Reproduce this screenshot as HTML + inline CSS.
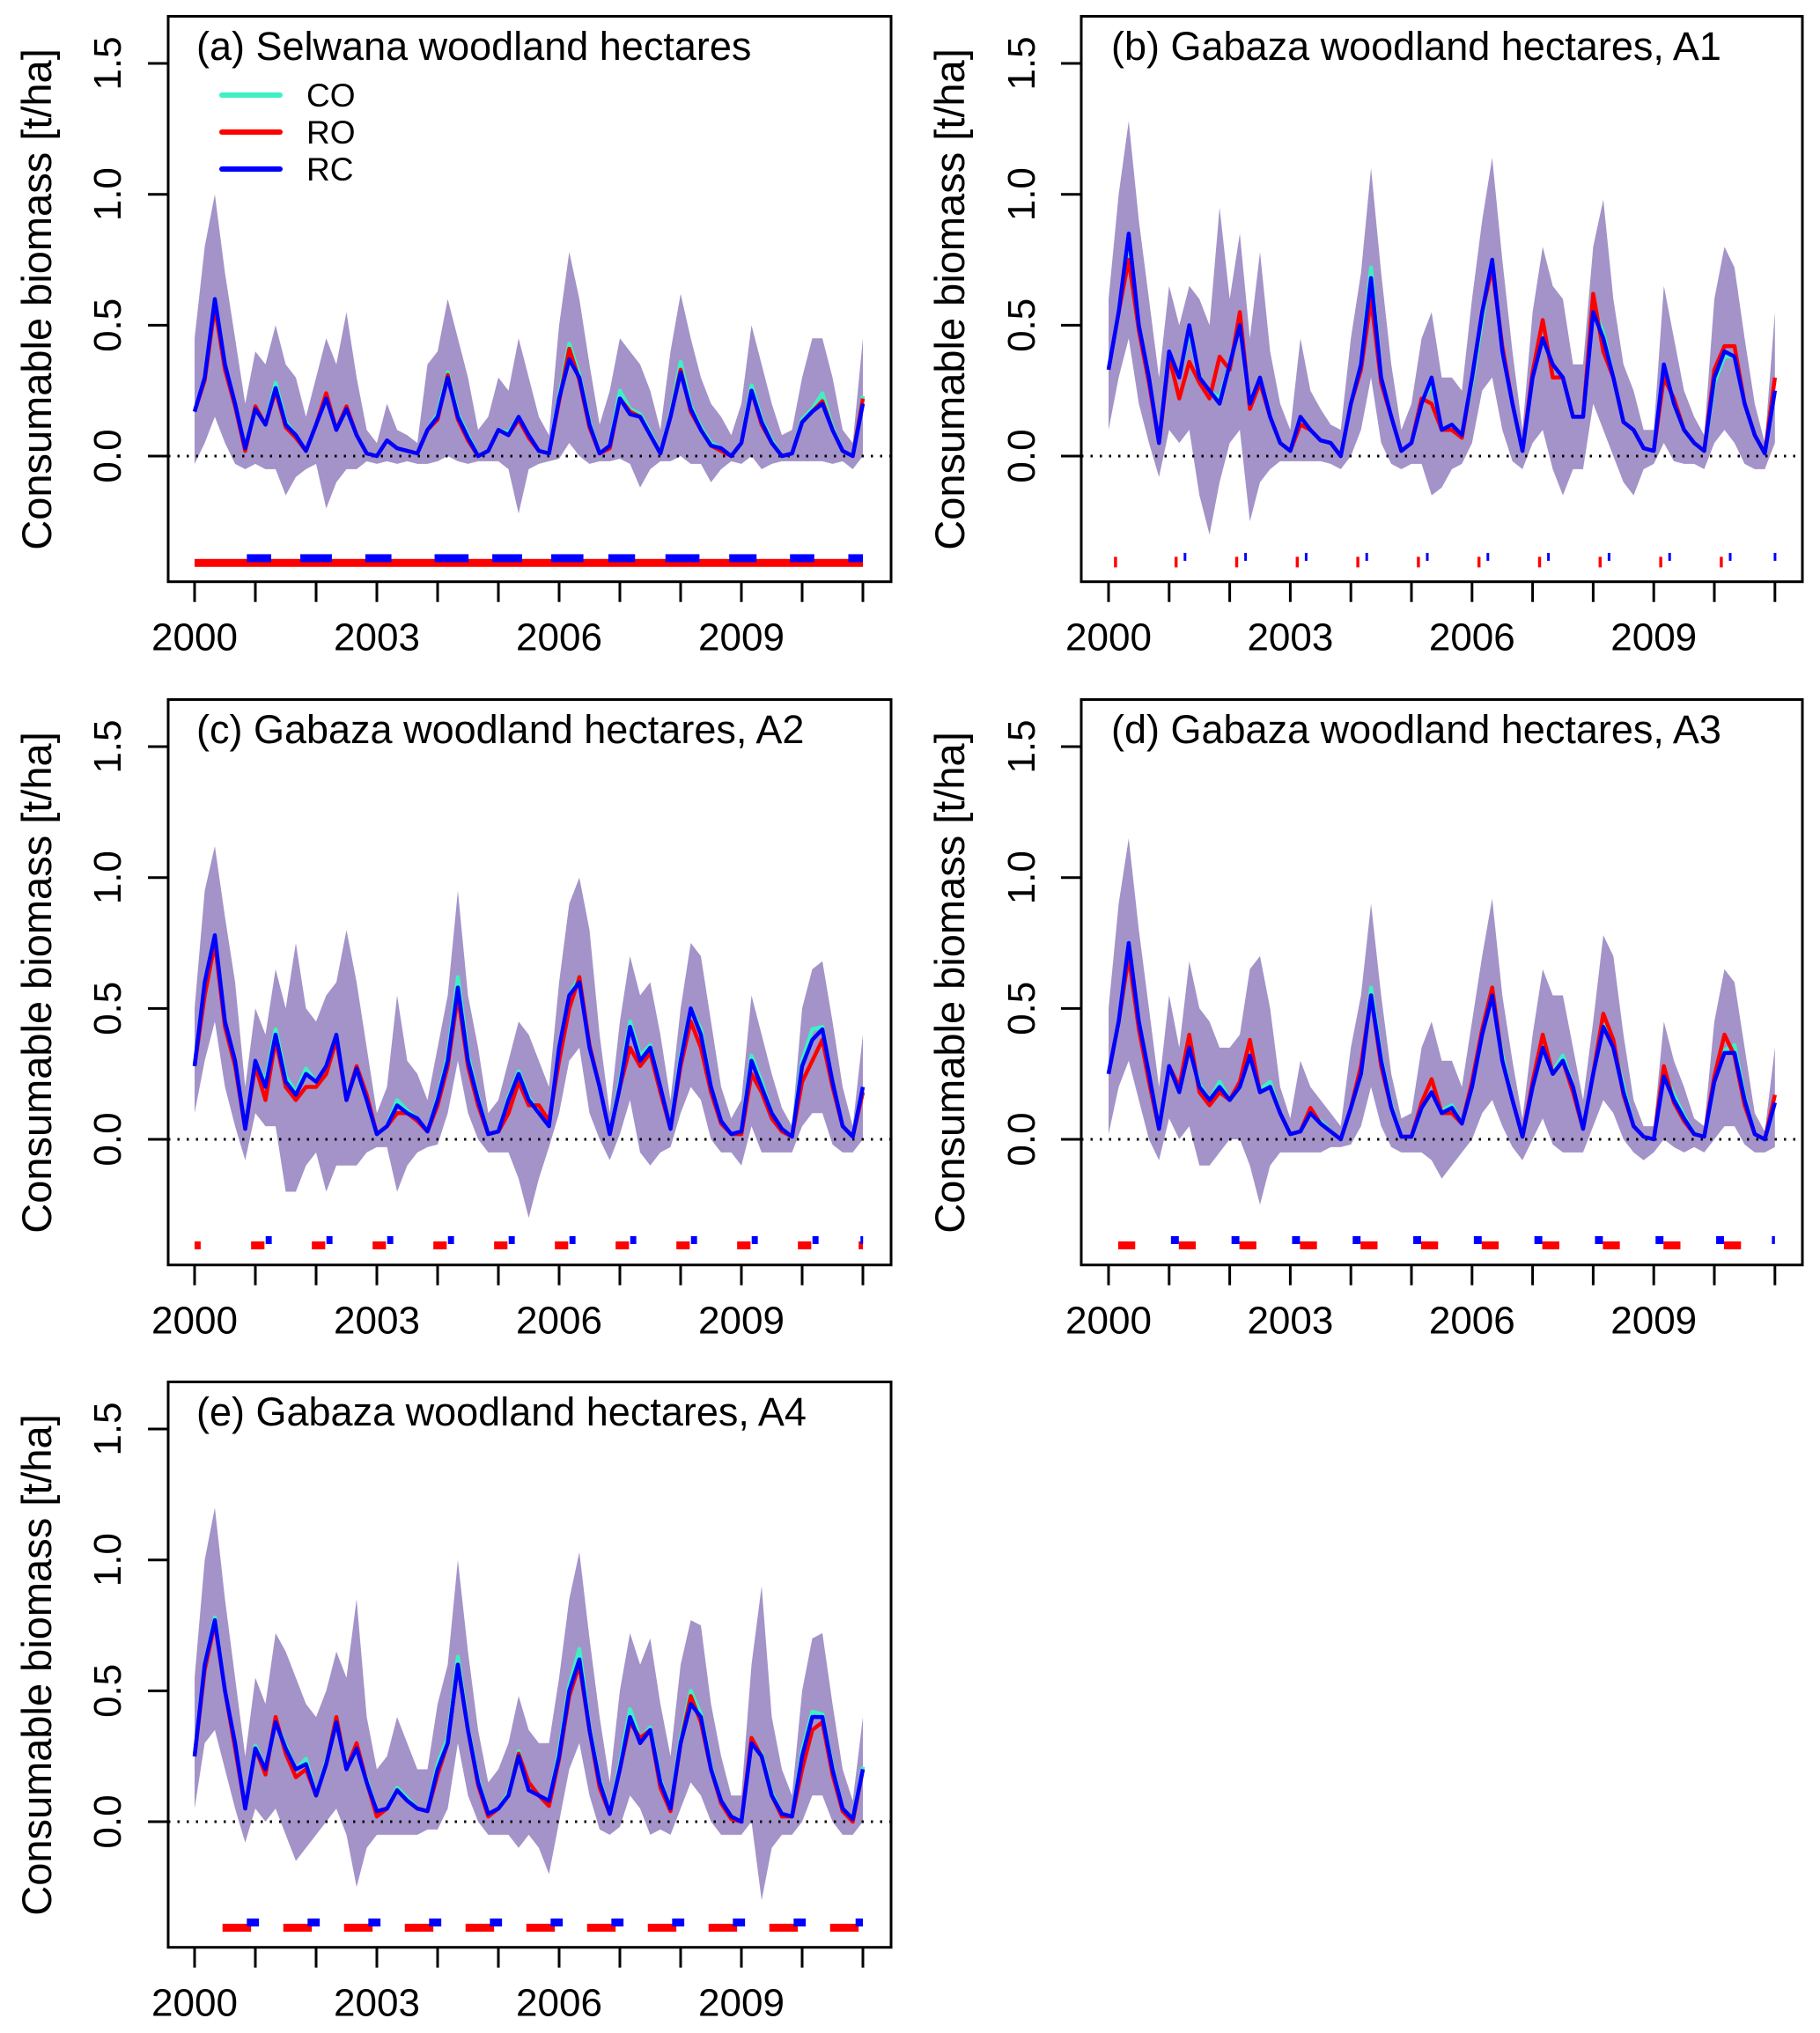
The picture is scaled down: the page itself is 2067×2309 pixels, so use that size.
<!DOCTYPE html>
<html><head><meta charset="utf-8">
<style>
html,body{margin:0;padding:0;background:#fff;}
svg{display:block;font-family:"Liberation Sans",Arial,sans-serif;}
</style></head>
<body>
<svg id="fig" width="2067" height="2309" viewBox="0 0 2067 2309" xmlns="http://www.w3.org/2000/svg"></svg>
<script>
// ---- data (2-month steps from 2000.0 to 2011.0, 67 points) ----
const xTicks = [2000,2001,2002,2003,2004,2005,2006,2007,2008,2009,2010,2011];
const xTickLabels = ["2000","2003","2006","2009"];
const yTicks = [0.0,0.5,1.0,1.5];
const yTickLabels = ["0.0","0.5","1.0","1.5"];
const seriesNames = ["CO","RO","RC"];
const panelTitles = ["(a) Selwana woodland hectares","(b) Gabaza woodland hectares, A1","(c) Gabaza woodland hectares, A2","(d) Gabaza woodland hectares, A3","(e) Gabaza woodland hectares, A4"];

const rcA = [0.17,0.3,0.6,0.35,0.2,0.03, 0.18,0.12,0.26,0.12,0.08,0.02, 0.12,0.22,0.1,0.18,0.08,0.01, 0.0,0.06,0.03,0.02,0.01,0.1, 0.15,0.3,0.15,0.07,0.0,0.02, 0.1,0.08,0.15,0.08,0.02,0.01, 0.22,0.37,0.3,0.12,0.01,0.04, 0.22,0.16,0.15,0.08,0.01,0.15, 0.32,0.18,0.1,0.04,0.03,0.0, 0.05,0.25,0.13,0.05,0.0,0.01, 0.13,0.17,0.2,0.1,0.02,0.0,0.2];
const roA = [0.17,0.29,0.57,0.33,0.19,0.02, 0.19,0.12,0.25,0.11,0.07,0.02, 0.12,0.24,0.1,0.19,0.08,0.01, 0.0,0.06,0.03,0.02,0.01,0.1, 0.14,0.31,0.14,0.06,0.0,0.02, 0.1,0.08,0.14,0.07,0.02,0.01, 0.21,0.41,0.29,0.11,0.01,0.03, 0.22,0.17,0.15,0.08,0.01,0.15, 0.33,0.17,0.1,0.04,0.02,0.0, 0.05,0.25,0.12,0.05,0.0,0.01, 0.13,0.17,0.21,0.1,0.02,0.0,0.22];
const coA = [0.17,0.3,0.6,0.35,0.2,0.03, 0.19,0.12,0.28,0.13,0.08,0.02, 0.12,0.22,0.1,0.18,0.08,0.01, 0.0,0.06,0.03,0.02,0.01,0.1, 0.16,0.32,0.16,0.08,0.0,0.02, 0.1,0.09,0.15,0.08,0.02,0.01, 0.23,0.43,0.31,0.13,0.01,0.04, 0.25,0.18,0.16,0.09,0.01,0.16, 0.36,0.19,0.11,0.05,0.03,0.0, 0.05,0.27,0.14,0.06,0.0,0.01, 0.14,0.18,0.24,0.11,0.02,0.0,0.23];
const upA = [0.45,0.8,1.0,0.7,0.45,0.2, 0.4,0.35,0.5,0.35,0.3,0.15, 0.3,0.45,0.35,0.55,0.3,0.1, 0.05,0.2,0.1,0.08,0.05,0.35, 0.4,0.6,0.45,0.3,0.1,0.15, 0.3,0.25,0.45,0.3,0.15,0.08, 0.5,0.78,0.6,0.35,0.12,0.25, 0.45,0.4,0.35,0.25,0.1,0.4, 0.62,0.45,0.3,0.2,0.15,0.08, 0.2,0.5,0.35,0.2,0.08,0.1, 0.3,0.45,0.45,0.3,0.1,0.05,0.45];
const loA = [-0.03,0.05,0.15,0.05,-0.03,-0.05, -0.03,-0.05,-0.05,-0.15,-0.08,-0.05, -0.03,-0.2,-0.1,-0.05,-0.05,-0.02, -0.03,-0.02,-0.03,-0.02,-0.03,-0.03, -0.02,0.0,-0.02,-0.03,-0.02,-0.02, -0.02,-0.05,-0.22,-0.05,-0.03,-0.02, -0.01,0.05,0.0,-0.03,-0.02,-0.02, -0.01,-0.03,-0.12,-0.05,-0.02,-0.02, 0.0,-0.03,-0.03,-0.1,-0.05,-0.02, -0.03,0.0,-0.05,-0.03,-0.02,-0.02, -0.02,-0.02,-0.02,-0.03,-0.02,-0.05,0.0];

const rcB = [0.33,0.55,0.85,0.5,0.3,0.05, 0.4,0.3,0.5,0.3,0.25,0.2, 0.35,0.5,0.2,0.3,0.15,0.05, 0.02,0.15,0.1,0.06,0.05,0.0, 0.2,0.35,0.68,0.3,0.15,0.02, 0.05,0.2,0.3,0.1,0.12,0.08, 0.3,0.55,0.75,0.4,0.2,0.02, 0.3,0.45,0.35,0.3,0.15,0.15, 0.55,0.45,0.3,0.13,0.1,0.03, 0.02,0.35,0.2,0.1,0.05,0.02, 0.3,0.4,0.38,0.2,0.08,0.01,0.25];
const roB = [0.33,0.55,0.75,0.48,0.28,0.05, 0.38,0.22,0.36,0.28,0.22,0.38, 0.33,0.55,0.18,0.28,0.15,0.05, 0.02,0.12,0.1,0.06,0.05,0.0, 0.2,0.33,0.6,0.28,0.15,0.02, 0.05,0.22,0.2,0.1,0.1,0.07, 0.3,0.55,0.72,0.42,0.2,0.02, 0.32,0.52,0.3,0.3,0.15,0.15, 0.62,0.4,0.3,0.13,0.1,0.03, 0.02,0.3,0.22,0.1,0.05,0.02, 0.33,0.42,0.42,0.2,0.08,0.01,0.3];
const coB = [0.33,0.55,0.82,0.5,0.3,0.05, 0.4,0.3,0.48,0.3,0.25,0.22, 0.35,0.5,0.2,0.3,0.15,0.05, 0.02,0.15,0.1,0.06,0.05,0.0, 0.2,0.35,0.72,0.3,0.15,0.02, 0.05,0.2,0.28,0.1,0.12,0.08, 0.28,0.52,0.75,0.4,0.2,0.02, 0.3,0.45,0.35,0.3,0.15,0.15, 0.57,0.47,0.3,0.13,0.1,0.03, 0.02,0.35,0.2,0.1,0.05,0.02, 0.28,0.38,0.38,0.2,0.08,0.01,0.25];
const upB = [0.6,1.0,1.28,0.9,0.6,0.3, 0.65,0.5,0.65,0.6,0.5,0.95, 0.6,0.85,0.45,0.78,0.4,0.2, 0.1,0.45,0.25,0.18,0.12,0.1, 0.45,0.7,1.1,0.7,0.35,0.1, 0.2,0.45,0.55,0.3,0.3,0.25, 0.6,0.9,1.14,0.75,0.4,0.1, 0.55,0.8,0.65,0.6,0.35,0.35, 0.8,0.98,0.6,0.35,0.25,0.1, 0.1,0.65,0.45,0.25,0.15,0.08, 0.6,0.8,0.72,0.45,0.2,0.05,0.55];
const loB = [0.1,0.3,0.45,0.2,0.05,-0.08, 0.1,0.05,0.1,-0.15,-0.3,-0.1, 0.05,0.1,-0.25,-0.1,-0.05,-0.02, -0.02,-0.02,-0.02,-0.02,-0.03,-0.05, 0.0,0.1,0.3,0.05,-0.03,-0.05, -0.03,-0.03,-0.15,-0.12,-0.05,-0.03, 0.05,0.25,0.3,0.1,-0.02,-0.05, 0.05,0.1,-0.05,-0.15,-0.05,-0.05, 0.2,0.1,0.0,-0.1,-0.15,-0.05, -0.03,0.05,-0.02,-0.03,-0.03,-0.05, 0.05,0.1,0.05,-0.03,-0.05,-0.05,0.05];

const rcC = [0.28,0.6,0.78,0.45,0.3,0.04, 0.3,0.2,0.4,0.22,0.17,0.25, 0.22,0.28,0.4,0.15,0.27,0.15, 0.02,0.05,0.13,0.1,0.08,0.03, 0.15,0.3,0.58,0.3,0.15,0.02, 0.03,0.15,0.25,0.15,0.1,0.05, 0.35,0.55,0.6,0.35,0.2,0.02, 0.2,0.43,0.3,0.35,0.2,0.04, 0.3,0.5,0.4,0.2,0.07,0.02, 0.03,0.3,0.2,0.1,0.04,0.01, 0.28,0.38,0.42,0.22,0.05,0.01,0.2];
const roC = [0.28,0.55,0.75,0.43,0.28,0.04, 0.28,0.15,0.38,0.2,0.15,0.2, 0.2,0.25,0.38,0.15,0.28,0.17, 0.02,0.05,0.1,0.1,0.07,0.03, 0.13,0.28,0.55,0.28,0.13,0.02, 0.03,0.1,0.22,0.13,0.13,0.07, 0.3,0.5,0.62,0.36,0.2,0.02, 0.2,0.35,0.28,0.33,0.18,0.04, 0.28,0.45,0.35,0.18,0.06,0.02, 0.02,0.25,0.18,0.08,0.03,0.01, 0.22,0.3,0.38,0.2,0.05,0.01,0.18];
const coC = [0.28,0.6,0.78,0.45,0.3,0.04, 0.3,0.22,0.42,0.24,0.18,0.27, 0.22,0.28,0.4,0.16,0.27,0.15, 0.02,0.05,0.15,0.11,0.08,0.03, 0.16,0.32,0.62,0.32,0.16,0.02, 0.03,0.16,0.26,0.16,0.1,0.05, 0.35,0.55,0.62,0.36,0.2,0.02, 0.22,0.45,0.32,0.36,0.2,0.04, 0.32,0.5,0.42,0.2,0.07,0.02, 0.03,0.32,0.22,0.1,0.04,0.01, 0.3,0.42,0.43,0.22,0.05,0.01,0.2];
const upC = [0.5,0.95,1.12,0.85,0.6,0.2, 0.5,0.4,0.65,0.5,0.75,0.5, 0.45,0.55,0.6,0.8,0.6,0.35, 0.1,0.2,0.55,0.3,0.25,0.15, 0.35,0.55,0.95,0.55,0.35,0.1, 0.15,0.3,0.45,0.4,0.3,0.2, 0.6,0.9,1.0,0.8,0.4,0.1, 0.45,0.7,0.55,0.6,0.4,0.15, 0.5,0.75,0.7,0.45,0.2,0.08, 0.15,0.55,0.4,0.25,0.12,0.05, 0.5,0.65,0.68,0.45,0.2,0.05,0.4];
const loC = [0.1,0.3,0.45,0.2,0.05,-0.08, 0.1,0.05,0.05,-0.2,-0.2,-0.1, -0.05,-0.2,-0.1,-0.1,-0.1,-0.05, -0.03,-0.03,-0.2,-0.1,-0.05,-0.03, -0.02,0.1,0.3,0.1,0.0,-0.05, -0.05,-0.05,-0.15,-0.3,-0.15,-0.03, 0.1,0.3,0.35,0.1,0.0,-0.08, 0.02,0.15,-0.05,-0.1,-0.05,-0.03, 0.1,0.2,0.15,0.0,-0.05,-0.05, -0.1,0.05,-0.05,-0.05,-0.05,-0.05, 0.05,0.1,0.1,-0.02,-0.05,-0.05,0.0];

const rcD = [0.25,0.45,0.75,0.45,0.25,0.04, 0.28,0.18,0.35,0.2,0.15,0.2, 0.15,0.2,0.32,0.18,0.2,0.1, 0.02,0.03,0.1,0.06,0.03,0.0, 0.12,0.25,0.55,0.3,0.12,0.01, 0.01,0.12,0.18,0.1,0.12,0.06, 0.2,0.4,0.55,0.3,0.15,0.01, 0.2,0.35,0.25,0.3,0.2,0.04, 0.25,0.43,0.35,0.18,0.05,0.01, 0.0,0.24,0.15,0.08,0.02,0.01, 0.22,0.33,0.33,0.15,0.02,0.0,0.14];
const roD = [0.25,0.45,0.7,0.42,0.22,0.04, 0.28,0.2,0.4,0.18,0.13,0.18, 0.15,0.22,0.38,0.18,0.2,0.1, 0.02,0.03,0.12,0.06,0.03,0.0, 0.12,0.28,0.55,0.28,0.12,0.01, 0.01,0.14,0.23,0.1,0.1,0.06, 0.22,0.42,0.58,0.3,0.15,0.01, 0.22,0.4,0.25,0.3,0.18,0.04, 0.25,0.48,0.38,0.17,0.05,0.01, 0.0,0.28,0.14,0.07,0.02,0.01, 0.24,0.4,0.32,0.13,0.02,0.0,0.17];
const coD = [0.25,0.45,0.75,0.45,0.25,0.04, 0.28,0.18,0.36,0.21,0.15,0.22, 0.15,0.2,0.32,0.19,0.22,0.1, 0.02,0.03,0.1,0.07,0.03,0.0, 0.12,0.25,0.58,0.31,0.13,0.01, 0.01,0.12,0.18,0.11,0.13,0.06, 0.2,0.4,0.56,0.32,0.15,0.01, 0.2,0.35,0.26,0.32,0.2,0.04, 0.25,0.44,0.37,0.2,0.05,0.01, 0.0,0.26,0.17,0.09,0.02,0.01, 0.22,0.34,0.36,0.16,0.02,0.0,0.14];
const upD = [0.5,0.9,1.15,0.8,0.5,0.2, 0.55,0.35,0.68,0.5,0.45,0.35, 0.35,0.4,0.65,0.7,0.5,0.2, 0.08,0.3,0.2,0.15,0.1,0.05, 0.35,0.55,0.9,0.55,0.25,0.08, 0.1,0.35,0.45,0.3,0.3,0.2, 0.45,0.7,0.92,0.55,0.3,0.08, 0.4,0.65,0.55,0.55,0.35,0.15, 0.45,0.78,0.7,0.4,0.15,0.05, 0.05,0.45,0.3,0.2,0.08,0.05, 0.45,0.65,0.6,0.35,0.1,0.03,0.35];
const loD = [0.02,0.2,0.3,0.15,0.0,-0.08, 0.08,0.0,0.05,-0.1,-0.1,-0.05, 0.0,0.0,-0.1,-0.25,-0.1,-0.05, -0.05,-0.05,-0.05,-0.05,-0.03,-0.03, -0.02,0.05,0.2,0.05,-0.03,-0.05, -0.05,-0.05,-0.08,-0.15,-0.1,-0.05, 0.0,0.1,0.15,0.05,-0.03,-0.08, 0.0,0.08,-0.02,-0.05,-0.05,-0.05, 0.05,0.15,0.1,0.0,-0.05,-0.08, -0.05,0.0,-0.03,-0.05,-0.03,-0.05, 0.0,0.05,0.05,-0.02,-0.05,-0.05,-0.03];

const rcE = [0.25,0.6,0.77,0.5,0.3,0.05, 0.28,0.2,0.38,0.28,0.2,0.22, 0.1,0.22,0.38,0.2,0.28,0.15, 0.04,0.05,0.12,0.08,0.05,0.04, 0.2,0.3,0.6,0.35,0.15,0.03, 0.05,0.1,0.25,0.12,0.1,0.08, 0.25,0.5,0.62,0.35,0.15,0.03, 0.2,0.4,0.3,0.35,0.15,0.05, 0.3,0.45,0.4,0.2,0.08,0.02, 0.0,0.3,0.25,0.1,0.03,0.02, 0.25,0.4,0.4,0.2,0.05,0.01,0.2];
const roE = [0.25,0.58,0.76,0.5,0.28,0.05, 0.28,0.18,0.4,0.26,0.17,0.2, 0.1,0.22,0.4,0.2,0.3,0.15, 0.02,0.05,0.12,0.08,0.05,0.04, 0.18,0.3,0.6,0.35,0.14,0.02, 0.05,0.1,0.26,0.15,0.1,0.06, 0.24,0.48,0.6,0.35,0.13,0.03, 0.2,0.38,0.32,0.35,0.13,0.04, 0.3,0.48,0.38,0.2,0.07,0.01, 0.0,0.32,0.25,0.1,0.02,0.02, 0.2,0.35,0.38,0.18,0.04,0.0,0.2];
const coE = [0.25,0.6,0.78,0.5,0.3,0.05, 0.29,0.2,0.38,0.29,0.2,0.24, 0.1,0.23,0.4,0.21,0.28,0.16, 0.04,0.05,0.13,0.09,0.05,0.04, 0.22,0.32,0.63,0.36,0.16,0.03, 0.05,0.11,0.27,0.13,0.1,0.08, 0.27,0.52,0.66,0.36,0.16,0.03, 0.22,0.43,0.32,0.36,0.16,0.05, 0.32,0.5,0.41,0.21,0.08,0.02, 0.0,0.31,0.26,0.11,0.03,0.02, 0.27,0.42,0.41,0.21,0.05,0.01,0.21];
const upE = [0.55,1.0,1.2,0.85,0.55,0.25, 0.55,0.45,0.72,0.65,0.55,0.45, 0.4,0.5,0.65,0.55,0.85,0.4, 0.2,0.25,0.4,0.3,0.2,0.2, 0.45,0.6,1.0,0.65,0.35,0.15, 0.2,0.3,0.48,0.35,0.3,0.3, 0.55,0.85,1.03,0.7,0.4,0.15, 0.5,0.72,0.6,0.7,0.45,0.25, 0.6,0.77,0.75,0.45,0.25,0.1, 0.1,0.6,0.9,0.4,0.2,0.1, 0.5,0.7,0.72,0.45,0.2,0.08,0.4];
const loE = [0.05,0.3,0.35,0.2,0.05,-0.08, 0.05,0.0,0.05,-0.05,-0.15,-0.1, -0.05,0.0,0.05,-0.05,-0.25,-0.1, -0.05,-0.05,-0.05,-0.05,-0.05,-0.03, -0.03,0.05,0.3,0.1,0.0,-0.05, -0.05,-0.05,-0.1,-0.05,-0.1,-0.2, 0.0,0.2,0.3,0.1,-0.03,-0.05, -0.02,0.1,0.05,-0.05,-0.03,-0.05, 0.05,0.15,0.1,0.0,-0.05,-0.05, -0.05,0.0,-0.3,-0.1,-0.05,-0.05, 0.0,0.1,0.1,0.0,-0.05,-0.05,0.0];

// period markers: [start year offset, end year offset]
const roPeriodsA = [[0,11]];
const rcPeriodsA = [[0.86,1.26],[1.74,2.26],[2.81,3.24],[3.95,4.51],[4.9,5.39],[5.87,6.4],[6.81,7.25],[7.75,8.31],[8.8,9.25],[9.8,10.2],[10.76,11.0]];
const roPeriodsB = [[0.09,0.14],[1.09,1.14],[2.09,2.14],[3.09,3.14],[4.09,4.14],[5.09,5.14],[6.09,6.14],[7.09,7.14],[8.09,8.14],[9.09,9.14],[10.09,10.14]];
const rcPeriodsB = [[1.24,1.27],[2.24,2.27],[3.24,3.27],[4.24,4.27],[5.24,5.27],[6.24,6.27],[7.24,7.27],[8.24,8.27],[9.24,9.27],[10.24,10.27],[10.98,11.0]];
const roPeriodsC = [[0.0,0.1],[0.93,1.15],[1.93,2.15],[2.93,3.15],[3.93,4.15],[4.93,5.15],[5.93,6.15],[6.93,7.15],[7.93,8.15],[8.93,9.15],[9.93,10.15],[10.93,11.0]];
const rcPeriodsC = [[1.17,1.27],[2.17,2.27],[3.17,3.27],[4.17,4.27],[5.17,5.27],[6.17,6.27],[7.17,7.27],[8.17,8.27],[9.17,9.27],[10.17,10.27],[10.96,11.0]];
const roPeriodsD = [[0.16,0.44],[1.16,1.44],[2.16,2.44],[3.16,3.44],[4.16,4.44],[5.16,5.44],[6.16,6.44],[7.16,7.44],[8.16,8.44],[9.16,9.44],[10.16,10.44]];
const rcPeriodsD = [[1.03,1.16],[2.03,2.16],[3.03,3.16],[4.03,4.16],[5.03,5.16],[6.03,6.16],[7.03,7.16],[8.03,8.16],[9.03,9.16],[10.03,10.16],[10.95,11.0]];
const roPeriodsE = [[0.46,0.93],[1.46,1.93],[2.46,2.93],[3.46,3.93],[4.46,4.93],[5.46,5.93],[6.46,6.93],[7.46,7.93],[8.46,8.93],[9.46,9.93],[10.46,10.93]];
const rcPeriodsE = [[0.86,1.06],[1.86,2.06],[2.86,3.06],[3.86,4.06],[4.86,5.06],[5.86,6.06],[6.86,7.06],[7.86,8.06],[8.86,9.06],[9.86,10.06],[10.88,11.0]];

// ---- rendering ----
const NS = "http://www.w3.org/2000/svg";
const svg = document.getElementById('fig');
function mk(tag, attrs, parent){
  const e = document.createElementNS(NS, tag);
  for (const k in attrs) e.setAttribute(k, attrs[k]);
  (parent||svg).appendChild(e);
  return e;
}
const COLS = [{boxL:191, boxR:1012, x0:221, pyr:69.0, ylab:40, ytick:122, title:223},
              {boxL:1228, boxR:2047, x0:1259, pyr:68.8, ylab:1077, ytick:1160, title:1262}];
const ROWS = [518, 1294, 2069];
const PXU = 297.3;
const panels = [
  {col:0,row:0,rc:rcA,ro:roA,co:coA,up:upA,lo:loA,roP:roPeriodsA,rcP:rcPeriodsA,roH:9,rcH:9,roY:-0.408,rcY:-0.39,legend:true},
  {col:1,row:0,rc:rcB,ro:roB,co:coB,up:upB,lo:loB,roP:roPeriodsB,rcP:rcPeriodsB,roH:12,rcH:9,roY:-0.405,rcY:-0.385},
  {col:0,row:1,rc:rcC,ro:roC,co:coC,up:upC,lo:loC,roP:roPeriodsC,rcP:rcPeriodsC,roH:9,rcH:9,roY:-0.405,rcY:-0.385},
  {col:1,row:1,rc:rcD,ro:roD,co:coD,up:upD,lo:loD,roP:roPeriodsD,rcP:rcPeriodsD,roH:9,rcH:9,roY:-0.405,rcY:-0.385},
  {col:0,row:2,rc:rcE,ro:roE,co:coE,up:upE,lo:loE,roP:roPeriodsE,rcP:rcPeriodsE,roH:9,rcH:9,roY:-0.405,rcY:-0.385}
];

panels.forEach((p, i) => {
  const C = COLS[p.col], y0 = ROWS[p.row];
  const X = t => C.x0 + t * C.pyr;          // t = years since 2000
  const Y = v => y0 - v * PXU;
  const top = Y(1.68), bot = Y(-0.48);
  const g = mk('g', {});
  
  
  const n = p.rc.length;
  const tt = k => k * 11 / (n - 1);
  // band
  let d = '';
  for (let k = 0; k < n; k++) d += (k ? 'L' : 'M') + X(tt(k)).toFixed(1) + ',' + Y(p.up[k]).toFixed(1);
  for (let k = n - 1; k >= 0; k--) d += 'L' + X(tt(k)).toFixed(1) + ',' + Y(p.lo[k]).toFixed(1);
  const band = mk('path', {d: d + 'Z', fill: '#a393c9', stroke: 'none'}, g);
  
  
  // zero line
  const zl = mk('line', {x1: C.boxL, x2: C.boxR, y1: Y(0), y2: Y(0), stroke: '#000', 'stroke-width': 3, 'stroke-dasharray': '2.5 8'}, g);
  
  
  // lines
  const series = [[p.co, '#3ff0c4', 'co-line'], [p.ro, '#ff0000', 'ro-line'], [p.rc, '#0000ff', 'rc-line']];
  series.forEach(s => {
    let dd = '';
    s[0].forEach((v, k) => { dd += (k ? 'L' : 'M') + X(tt(k)).toFixed(1) + ',' + Y(v).toFixed(1); });
    const ln = mk('path', {d: dd, fill: 'none', stroke: s[1], 'stroke-width': 4.5, 'stroke-linejoin': 'round'}, g);
    
    
  });
  // period bars
  p.roP.forEach(r => {
    const b = mk('rect', {x: X(r[0]), y: Y(p.roY) - p.roH / 2, width: Math.max(3, X(r[1]) - X(r[0])), height: p.roH, fill: '#ff0000'}, g);
    
    
  });
  p.rcP.forEach(r => {
    const b = mk('rect', {x: X(r[0]), y: Y(p.rcY) - p.rcH / 2, width: Math.max(3, X(r[1]) - X(r[0])), height: p.rcH, fill: '#0000ff'}, g);
    
    
  });
  // box
  const box = mk('rect', {x: C.boxL, y: top, width: C.boxR - C.boxL, height: bot - top, fill: 'none', stroke: '#000', 'stroke-width': 3}, g);
  
  
  // x ticks
  xTicks.forEach(yr => {
    const tk = mk('line', {x1: X(yr - 2000), x2: X(yr - 2000), y1: bot, y2: bot + 23, stroke: '#000', 'stroke-width': 3}, g);
    
    
  });
  xTickLabels.forEach(lb => {
    const tx = mk('text', {x: X(+lb - 2000), y: bot + 78, 'font-size': 44, 'text-anchor': 'middle', fill: '#000'}, g);
    tx.textContent = lb;
    
    
  });
  // y ticks
  yTicks.forEach((v, k) => {
    const tk = mk('line', {x1: C.boxL - 23, x2: C.boxL, y1: Y(v), y2: Y(v), stroke: '#000', 'stroke-width': 3}, g);
    
    
    const tx = mk('text', {x: 0, y: 0, 'font-size': 44, 'text-anchor': 'middle', fill: '#000',
      transform: 'translate(' + (C.ytick + 15) + ',' + Y(v) + ') rotate(-90)'}, g);
    tx.textContent = yTickLabels[k];
    
    
  });
  // y title
  const yt = mk('text', {x: 0, y: 0, 'font-size': 47, 'text-anchor': 'middle', fill: '#000',
    transform: 'translate(' + (C.ylab + 18) + ',' + (y0 - 178) + ') rotate(-90)'}, g);
  yt.textContent = 'Consumable biomass [t/ha]';
  
  
  // panel title
  const pt = mk('text', {x: C.title, y: y0 - 450, 'font-size': 45, fill: '#000'}, g);
  pt.textContent = panelTitles[i];
  
  
  // legend
  if (p.legend) {
    const lg = mk('g', {}, g);
    
    
    const cols = ['#3ff0c4', '#ff0000', '#0000ff'];
    seriesNames.forEach((nm, k) => {
      const yy = y0 - 410 + k * 42;
      const ll = mk('line', {x1: 252, x2: 318, y1: yy, y2: yy, stroke: cols[k], 'stroke-width': 6, 'stroke-linecap': 'round'}, lg);
      
      
      const lt = mk('text', {x: 348, y: yy + 13, 'font-size': 37, fill: '#000'}, lg);
      lt.textContent = nm;
      
      
    });
  }
});
</script>
</body></html>
